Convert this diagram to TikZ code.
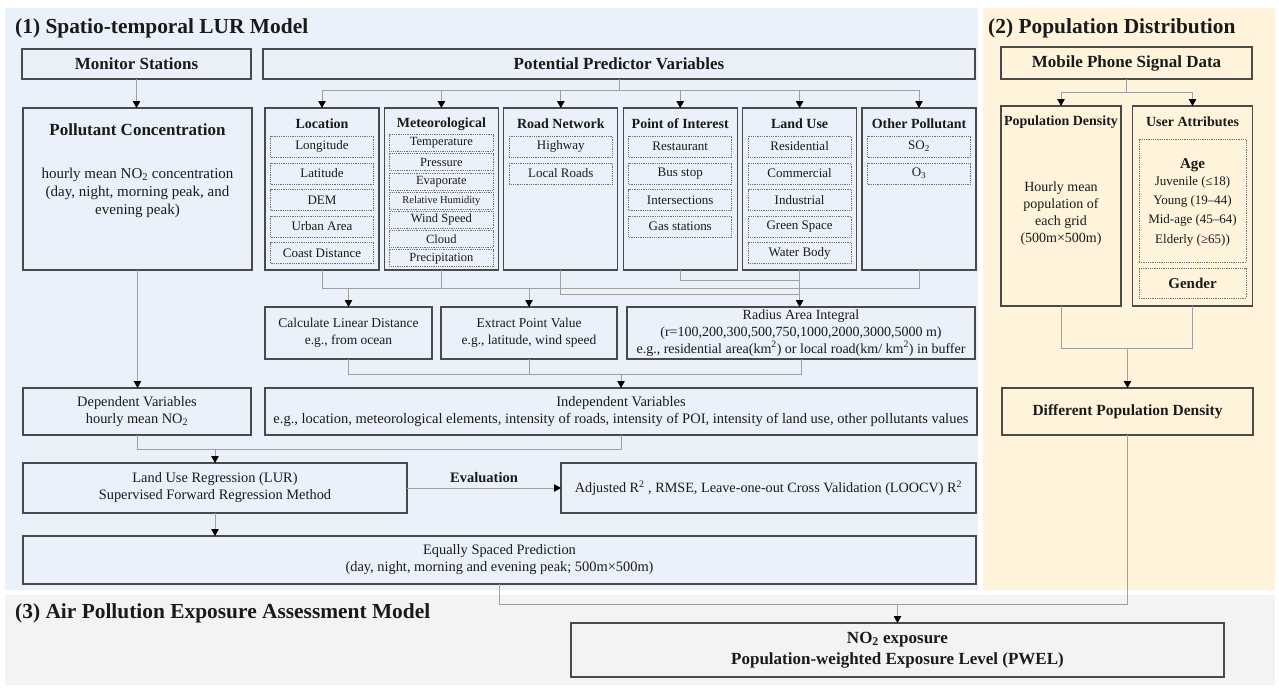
\documentclass[tikz,border=0pt]{standalone}
\usepackage{fontspec}
\setmainfont{Liberation Serif}
\usetikzlibrary{arrows.meta}
\definecolor{bgA}{HTML}{EBF1FA}
\definecolor{bgB}{HTML}{FFF3DC}
\definecolor{bgC}{HTML}{F3F3F3}
\definecolor{boxc}{HTML}{4A4A4A}
\definecolor{subc}{HTML}{707070}
\definecolor{linec}{HTML}{A0A0A0}
\definecolor{txt}{HTML}{1A1A1A}
\newcommand\myfs[2]{\fontsize{#1}{#2}\selectfont}
\tikzset{
  wh/.style 2 args={minimum width=#1pt, minimum height=#2pt},
  bx/.style={draw=boxc, line width=1.2pt, inner sep=0pt, outer sep=0pt, text=txt, align=center, font=\myfs{14.4}{17}},
  sub/.style={draw=subc, densely dotted, line width=0.8pt, inner sep=0pt, outer sep=0pt, text=txt, font=\myfs{13}{15}},
  ttl/.style={font=\myfs{21.4}{24}\bfseries, text=txt, inner sep=0pt, anchor=west},
  hd/.style={font=\myfs{17}{21}\bfseries, text=txt, inner sep=0pt, align=center},
  ctl/.style={font=\myfs{14}{16}\bfseries, text=txt, inner sep=0pt},
  tx/.style={text=txt, inner sep=0pt, align=center},
  ln/.style={draw=linec, line width=0.9pt},
  arr/.style={ln, -{Triangle[length=7pt,width=7.5pt,color=black]}}
}
\begin{document}
\begin{tikzpicture}[x=1pt,y=-1pt]
\useasboundingbox (0,0) rectangle (1279,689);
\fill[white] (0,0) rectangle (1279,689);
\fill[bgA] (5,8) rectangle (978,590);
\fill[bgB] (983,8) rectangle (1275,590);
\fill[bgC] (5,595) rectangle (1275,685);

% titles
\node[ttl] (t1) at (15,28) {(1) Spatio-temporal LUR Model};
\node[ttl] (t2) at (988,28) {(2) Population Distribution};
\node[ttl] (t3) at (15,613) {(3) Air Pollution Exposure Assessment Model};

% ---------- panel 1 ----------
\node[bx, wh={229}{30}, font=\myfs{17}{20}\bfseries] (ms) at (136.5,64) {Monitor Stations};
\node[bx, wh={712}{30}, font=\myfs{17}{20}\bfseries] (ppv) at (619,64) {Potential Predictor Variables};

\node[bx, wh={229}{162}] (pc) at (137.5,189) {};
\node[hd] (pct) at (137.5,130) {Pollutant Concentration};
\node[tx, font=\myfs{15}{18}] (pcb) at (137.5,193) {hourly mean NO\textsubscript{2} concentration\\(day, night, morning peak, and\\evening peak)};

% categories
\node[bx, wh={114}{162}] (loc) at (322,189) {};
\node[bx, wh={114}{162}] (met) at (441.4,189) {};
\node[bx, wh={114}{162}] (road) at (560.8,189) {};
\node[bx, wh={114}{162}] (poi) at (680.2,189) {};
\node[bx, wh={114}{162}] (land) at (799.6,189) {};
\node[bx, wh={114}{162}] (oth) at (919,189) {};

\node[ctl] (loct) at (322,124) {Location};
\node[ctl] (mett) at (441.4,124) {Meteorological};
\node[ctl] (roadt) at (560.8,124) {Road Network};
\node[ctl] (poit) at (680.2,124) {Point of Interest};
\node[ctl] (landt) at (799.6,124) {Land Use};
\node[ctl] (otht) at (919,124) {Other Pollutant};

\node[sub, wh={103}{21}] (l1) at (322,146.5) {Longitude};
\node[sub, wh={103}{21}] (l2) at (322,173.5) {Latitude};
\node[sub, wh={103}{21}] (l3) at (322,200) {DEM};
\node[sub, wh={103}{21}] (l4) at (322,226.5) {Urban Area};
\node[sub, wh={103}{21}] (l5) at (322,253) {Coast Distance};

\node[sub, wh={104}{17}, font=\myfs{12.5}{14}] (m1) at (441.4,143) {Temperature};
\node[sub, wh={104}{17}, font=\myfs{12.5}{14}] (m2) at (441.4,162.2) {Pressure};
\node[sub, wh={104}{17}, font=\myfs{12.5}{14}] (m3) at (441.4,181.4) {Evaporate};
\node[sub, wh={104}{17}, font=\myfs{10.5}{12}] (m4) at (441.4,200.6) {Relative Humidity};
\node[sub, wh={104}{17}, font=\myfs{12.5}{14}] (m5) at (441.4,219.8) {Wind Speed};
\node[sub, wh={104}{17}, font=\myfs{12.5}{14}] (m6) at (441.4,239) {Cloud};
\node[sub, wh={104}{17}, font=\myfs{12.5}{14}] (m7) at (441.4,258.2) {Precipitation};

\node[sub, wh={103}{21}] (r1) at (560.8,146.5) {Highway};
\node[sub, wh={103}{21}] (r2) at (560.8,173.5) {Local Roads};

\node[sub, wh={103}{21}] (p1) at (680.2,146.5) {Restaurant};
\node[sub, wh={103}{21}] (p2) at (680.2,173.5) {Bus stop};
\node[sub, wh={103}{21}] (p3) at (680.2,200) {Intersections};
\node[sub, wh={103}{21}] (p4) at (680.2,226.5) {Gas stations};

\node[sub, wh={103}{21}] (u1) at (799.6,146.5) {Residential};
\node[sub, wh={103}{21}] (u2) at (799.6,173.5) {Commercial};
\node[sub, wh={103}{21}] (u3) at (799.6,200) {Industrial};
\node[sub, wh={103}{21}] (u4) at (799.6,226.5) {Green Space};
\node[sub, wh={103}{21}] (u5) at (799.6,253) {Water Body};

\node[sub, wh={103}{21}] (o1) at (919,146.5) {SO\textsubscript{2}};
\node[sub, wh={103}{21}] (o2) at (919,173.5) {O\textsubscript{3}};

% process row
\node[bx, wh={167}{52}, font=\myfs{13.5}{17}] (calc) at (348.5,333) {Calculate Linear Distance\\e.g., from ocean};
\node[bx, wh={176}{52}, font=\myfs{13.5}{17}] (ext) at (529,333) {Extract Point Value\\e.g., latitude, wind speed};
\node[bx, wh={348}{52}, font=\myfs{14}{16.7}] (rad) at (801,333) {Radius Area Integral\\(r=100,200,300,500,750,1000,2000,3000,5000 m)\\e.g., residential area(km\textsuperscript{2}) or local road(km/ km\textsuperscript{2}) in buffer};

\node[bx, wh={228}{47}] (dep) at (137,411.5) {Dependent Variables\\hourly mean NO\textsubscript{2}};
\node[bx, wh={712}{47}, font=\myfs{14.5}{17.5}] (ind) at (621,411.5) {Independent Variables\\e.g., location, meteorological elements, intensity of roads, intensity of POI, intensity of land use, other pollutants values};

\node[bx, wh={384}{50}] (lur) at (215,488) {Land Use Regression (LUR)\\Supervised Forward Regression Method};
\node[bx, wh={415}{50}, font=\myfs{14.2}{17}] (adj) at (768.5,488) {Adjusted R\textsuperscript{2} , RMSE, Leave-one-out Cross Validation (LOOCV) R\textsuperscript{2}};
\node[bx, wh={953}{48}] (eq) at (499.5,560) {Equally Spaced Prediction\\(day, night, morning and evening peak; 500m×500m)};

% ---------- panel 3 ----------
\node[bx, wh={653}{54}, font=\myfs{17}{21}\bfseries] (no2) at (897.5,650) {NO\textsubscript{2} exposure\\Population-weighted Exposure Level (PWEL)};

% ---------- panel 2 ----------
\node[bx, wh={251}{32}, font=\myfs{17}{20}\bfseries] (mob) at (1126.5,63) {Mobile Phone Signal Data};
\node[bx, wh={120}{200}] (popd) at (1061,206) {};
\node[bx, wh={120}{200}] (ua) at (1192.5,206) {};
\node[ctl] (popdt) at (1061,122) {Population Density};
\node[tx, font=\myfs{14}{17}] (popdb) at (1061,213.5) {Hourly mean\\population of\\each grid\\(500m×500m)};
\node[ctl] (uat) at (1192.5,122) {User Attributes};
\node[sub, wh={107}{123}] (age) at (1192.5,200.5) {};
\node[tx, font=\myfs{15}{17}\bfseries] (aget) at (1192.5,165) {Age};
\node[tx, font=\myfs{13}{19.3}] (ageb) at (1192.5,211.2) {Juvenile (≤18)\\Young (19–44)\\Mid-age (45–64)\\Elderly (≥65))};
\node[sub, wh={107}{30}, font=\myfs{15}{17}\bfseries] (gen) at (1192.5,283) {Gender};
\node[bx, wh={251}{47}, font=\myfs{15.5}{18}\bfseries] (dpd) at (1127.5,411.5) {Different Population Density};

% ---------- connectors ----------
\draw[arr] (ms.south) -- (ms.south |- pc.north);

\coordinate (h1) at (0,90);
\draw[ln] (ppv.south) -- (ppv.south |- h1);
\draw[ln] (loc.north |- h1) -- (oth.north |- h1);
\foreach \n in {loc,met,road,poi,land,oth} \draw[arr] (\n.north |- h1) -- (\n.north);

\coordinate (h2) at (0,288);
\coordinate (h3) at (0,280);
\coordinate (h4) at (0,294);
\draw[ln] (loc.south) -- (loc.south |- h2) -- (oth.south |- h2) -- (oth.south);
\draw[ln] (met.south) -- (met.south |- h2);
\draw[arr] (calc.north |- h2) -- (calc.north);
\draw[arr] (ext.north |- h2) -- (ext.north);
\draw[ln] (poi.south) -- (poi.south |- h3) -- (land.south |- h3);
\draw[ln] (road.south) -- (road.south |- h4) -- (land.south |- h4);
\draw[arr] (land.south) -- (land.south |- rad.north);

\coordinate (h5) at (0,374);
\draw[ln] (calc.south) -- (calc.south |- h5) -- (rad.south |- h5) -- (rad.south);
\draw[ln] (ext.south) -- (ext.south |- h5);
\draw[arr] (ind.north |- h5) -- (ind.north);

\draw[arr] (pc.south) -- (pc.south |- dep.north);

\coordinate (h6) at (0,449);
\draw[ln] (dep.south) -- (dep.south |- h6) -- (ind.south |- h6) -- (ind.south);
\draw[arr] (lur.north |- h6) -- (lur.north);

\draw[arr] (lur.east) -- node[midway, above=5pt, font=\myfs{14.5}{16}\bfseries, text=txt, inner sep=0pt] (evl) {Evaluation} (adj.west);
\draw[arr] (lur.south) -- (lur.south |- eq.north);

\coordinate (h7) at (0,604);
\draw[ln] (eq.south) -- (eq.south |- h7) -- (no2.north |- h7);
\draw[ln] (dpd.south) -- (dpd.south |- h7) -- (no2.north |- h7);
\draw[arr] (no2.north |- h7) -- (no2.north);

\coordinate (h8) at (0,92);
\draw[ln] (mob.south) -- (mob.south |- h8);
\draw[ln] (popd.north |- h8) -- (ua.north |- h8);
\draw[arr] (popd.north |- h8) -- (popd.north);
\draw[arr] (ua.north |- h8) -- (ua.north);

\coordinate (h9) at (0,348);
\draw[ln] (popd.south) -- (popd.south |- h9) -- (ua.south |- h9) -- (ua.south);
\draw[arr] (dpd.north |- h9) -- (dpd.north);
\end{tikzpicture}
\end{document}
